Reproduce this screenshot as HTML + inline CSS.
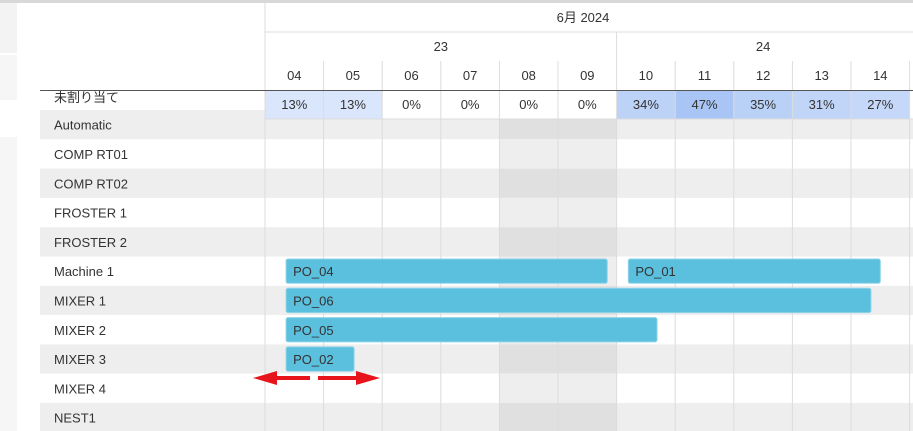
<!DOCTYPE html>
<html><head><meta charset="utf-8"><style>
body{margin:0;width:913px;height:431px;overflow:hidden;background:#fff;font-family:"Liberation Sans","Noto Sans CJK JP",sans-serif;color:#333;position:relative}
.a{position:absolute;box-sizing:border-box}
.t{font-size:13px;display:flex;align-items:center;justify-content:center}
</style></head><body>
<div class="a" style="left:0;top:0;width:913px;height:3px;background:#d8d8d8"></div>
<div class="a" style="left:0;top:3px;width:17px;height:50px;background:#f3f3f3"></div>
<div class="a" style="left:0;top:55px;width:17px;height:45px;background:#f6f6f6"></div>
<div class="a" style="left:0;top:137px;width:17px;height:294px;background:#f6f6f6"></div>
<svg id="g" class="a" style="left:0;top:0" width="913" height="431"></svg>
<script>
const days=["04","05","06","07","08","09","10","11","12","13","14"];
const weekend=[4,5];
const pct=[13,13,0,0,0,0,34,47,35,31,27];
const resources=["Automatic","COMP RT01","COMP RT02","FROSTER 1","FROSTER 2","Machine 1","MIXER 1","MIXER 2","MIXER 3","MIXER 4","NEST1"];
const taskNames=["PO_04","PO_01","PO_06","PO_05","PO_02"];
const taskRes=["Machine 1","Machine 1","MIXER 1","MIXER 2","MIXER 3"];
const taskStart=[4.36,10.2,4.36,4.36,4.36];
const taskEnd=[9.84,14.5,14.34,10.69,5.52];
const X0=265,CW=58.6,RH=29.3,R0=110;
const x=d=>X0+(d-4)*CW;
const s=document.getElementById('g');const NS="http://www.w3.org/2000/svg";
function el(t,a,txt){const e=document.createElementNS(NS,t);for(const k in a)e.setAttribute(k,a[k]);if(txt!==undefined)e.textContent=txt;s.appendChild(e);return e;}
// rows
resources.forEach((r,i)=>{const y=R0+i*RH;const gray=i%2==0;
 let e=el('rect',{x:40,y:y,width:225,height:RH,fill:gray?'#eeeeee':'#fff'});
 
 const gy=i==0?119:y;
 e=el('rect',{x:X0,y:gy,width:913-X0,height:y+RH-gy,fill:gray?'#eeeeee':'#fff'});
 
 weekend.forEach(w=>{e=el('rect',{x:X0+w*CW,y:gy,width:CW,height:y+RH-gy,fill:gray?'#e0e0e0':'#eeeeee'});
 });
 e=el('text',{x:54,y:y+RH/2+5,'font-size':13,fill:'#333'},r);
 
});
// unassigned label
let e=el('rect',{x:40,y:90,width:225,height:20,fill:'#fff'});
e=el('text',{x:54,y:102,'font-size':13,fill:'#333'},'未割り当て');

// percent row
pct.forEach((p,i)=>{const a=Math.min(1,p/47);
 const c=p==0?'#fff':`rgb(${Math.round(218-(218-169)*Math.max(0,(p-13)/34))},${Math.round(230-(230-197)*Math.max(0,(p-13)/34))},${Math.round(251-(251-245)*Math.max(0,(p-13)/34))})`;
 let r=el('rect',{x:X0+i*CW,y:90,width:CW,height:29,fill:c});
 
 let t=el('text',{x:X0+i*CW+CW/2,y:109,'font-size':13,'text-anchor':'middle',fill:'#333'},p+'%');
 
});
// vertical grid lines
for(let i=0;i<=11;i++){const top=i==0?3:(i==6?32:61);
 el('line',{x1:X0+i*CW,y1:top,x2:X0+i*CW,y2:431,stroke:'#dcdcdc','stroke-width':1});}
el('line',{x1:X0,y1:32,x2:913,y2:32,stroke:'#dcdcdc'});
el('line',{x1:X0,y1:119,x2:913,y2:119,stroke:'#dcdcdc'});
// headers
e=el('text',{x:583,y:22,'font-size':13,'text-anchor':'middle',fill:'#333'},'6月 2024');

e=el('text',{x:x(4)+3*CW,y:51,'font-size':13,'text-anchor':'middle',fill:'#333'},'23');

e=el('text',{x:x(10)+2.5*CW,y:51,'font-size':13,'text-anchor':'middle',fill:'#333'},'24');

days.forEach((d,i)=>{let t=el('text',{x:X0+i*CW+CW/2,y:80,'font-size':13,'text-anchor':'middle',fill:'#333'},d);
 });
el('line',{x1:40,y1:90.5,x2:913,y2:90.5,stroke:'#555','stroke-width':1});
// bars
taskNames.forEach((n,i)=>{const ri=resources.indexOf(taskRes[i]);const y=R0+ri*RH;
 const x1=x(taskStart[i]),x2=x(taskEnd[i]);
 let r=el('rect',{x:x1,y:y+2.5,width:x2-x1,height:RH-5,rx:2,fill:'#5bbfde',stroke:'#8fd3e8','stroke-width':1});
 
 let t=el('text',{x:x1+7,y:y+RH/2+5,'font-size':13,fill:'#333'},n);
 
});
// arrows
e=el('path',{d:'M253 378 L277 371 L277 376 L310 376 L310 380 L277 380 L277 385 Z',fill:'#e8141b'});

e=el('path',{d:'M380 378 L356 371 L356 376 L318 376 L318 380 L356 380 L356 385 Z',fill:'#e8141b'});

</script>
</body></html>
